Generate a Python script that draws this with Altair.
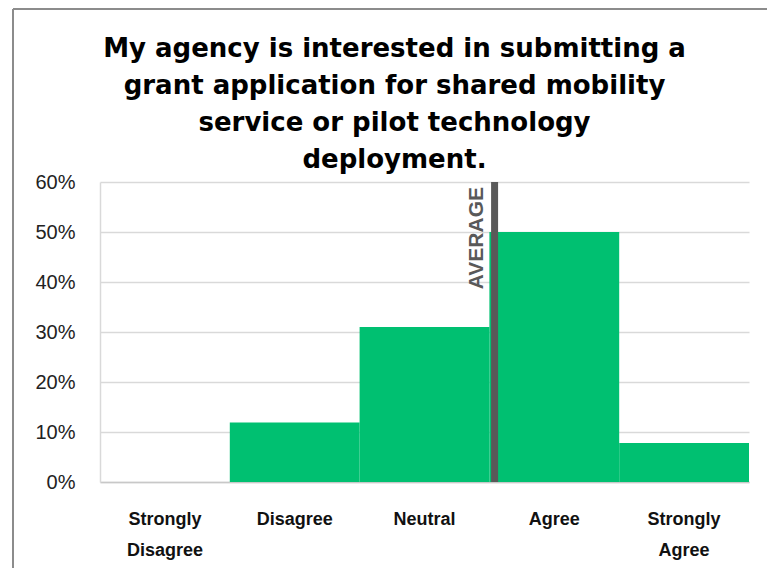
import altair as alt
import pandas as pd

categories = ["Strongly Disagree", "Disagree", "Neutral", "Agree", "Strongly Agree"]
shares = [0.0, 0.119, 0.310, 0.500, 0.078]
average_score = 3.54  # on the 1..5 response scale
y_ticks = [0, 0.1, 0.2, 0.3, 0.4, 0.5, 0.6]
title_lines = [
    "My agency is interested in submitting a",
    "grant application for shared mobility",
    "service or pilot technology",
    "deployment.",
]

df = pd.DataFrame({"category": categories, "share": shares})
avg_df = pd.DataFrame({"pos": [average_score - 0.5], "label": ["AVERAGE"], "y0": [0.0], "y1": [0.6]})

GREEN = "#00C071"
DARK = "#595959"

bars = alt.Chart(df).mark_bar(color=GREEN).encode(
    x=alt.X(
        "category:N",
        sort=categories,
        scale=alt.Scale(paddingInner=0, paddingOuter=0),
        axis=alt.Axis(
            title=None,
            labelAngle=0,
            labelExpr="split(datum.label, ' ')",
            labelFont="Liberation Sans",
            labelFontSize=18,
            labelFontWeight="bold",
            labelColor="#111111",
            labelLineHeight=31,
            labelBaseline="top",
            labelPadding=28,
            ticks=False,
            domainColor="#c8c8c8",
            domainWidth=1.5,
            grid=False,
        ),
    ),
    y=alt.Y(
        "share:Q",
        scale=alt.Scale(domain=[0, 0.6], nice=False),
        axis=alt.Axis(
            title=None,
            values=y_ticks,
            format=".0%",
            labelFont="Liberation Sans",
            labelFontSize=20,
            labelColor="#222222",
            labelPadding=25,
            ticks=False,
            domainColor="#d9d9d9",
            domainWidth=1.5,
            gridColor="#d9d9d9",
            gridWidth=1.5,
        ),
    ),
)

xq = alt.X("pos:Q", scale=alt.Scale(domain=[0, 5], nice=False, zero=False), axis=None)

rule = alt.Chart(avg_df).mark_rule(color=DARK, strokeWidth=7).encode(
    x=xq, y=alt.Y("y0:Q"), y2="y1:Q"
)

txt = alt.Chart(avg_df).mark_text(
    angle=270,
    align="right",
    baseline="alphabetic",
    dx=-5,
    dy=-12,
    font="Liberation Sans",
    fontSize=21,
    fontWeight="bold",
    color=DARK,
).encode(x=xq, y=alt.Y("y1:Q"), text="label:N")

frame_left = alt.Chart(avg_df).mark_rule(color="#8c8c8c", strokeWidth=2).encode(
    x=alt.value(-87), y=alt.value(-173), y2=alt.value(400)
)
frame_top = alt.Chart(avg_df).mark_rule(color="#8c8c8c", strokeWidth=2).encode(
    y=alt.value(-173), x=alt.value(-87), x2=alt.value(700)
)

chart = (
    alt.layer(bars, rule, txt, frame_left, frame_top)
    .resolve_scale(x="independent")
    .properties(
        width=649,
        height=300,
        padding={"left": 92, "top": 174, "right": 18, "bottom": 86},
        autosize=alt.AutoSizeParams(type="none"),
        title=alt.TitleParams(
            text=title_lines,
            font="DejaVu Sans",
            fontSize=26,
            fontWeight="bold",
            lineHeight=37,
            color="#000000",
            anchor="middle",
            baseline="top",
            dx=-30,
            offset=-165,
        ),
    )
    .configure_view(stroke=None)
)

chart.save("out.html", embed_options={"renderer": "svg", "actions": False})
